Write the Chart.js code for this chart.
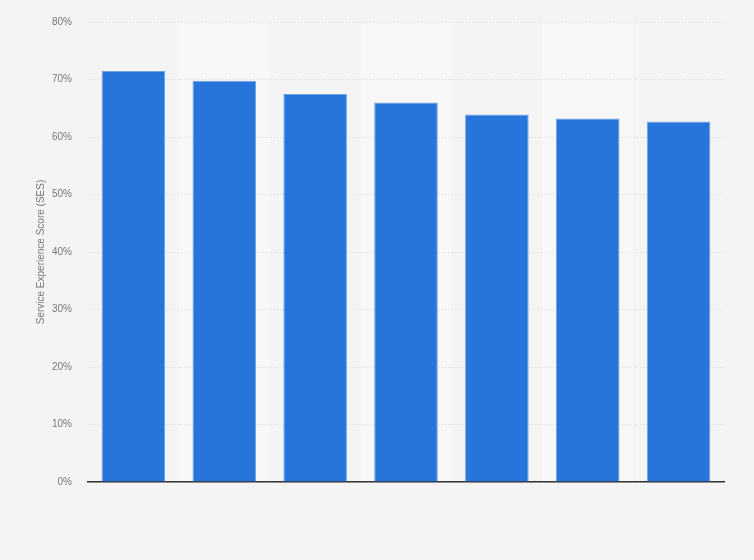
<!DOCTYPE html>
<html>
<head>
<meta charset="utf-8">
<script src="https://cdn.jsdelivr.net/npm/chart.js@4"></script>
<style>
  html, body { margin: 0; padding: 0; background: #f4f4f4; }
  #wrap { width: 754px; height: 560px; }
</style>
</head>
<body>
<div id="wrap"><canvas id="ses-bar"></canvas></div>
<script>
// Data
var categories = ['1', '2', '3', '4', '5', '6', '7'];
var sesValues = [71.5, 69.8, 67.5, 66.0, 63.9, 63.2, 62.7];
var yTicks = [0, 10, 20, 30, 40, 50, 60, 70, 80];

// Colors
var barColor = "#2775db";
var barEdge = "#6fa3e8";
var bandColor = "#f8f8f8";
var gridColor = "#d9d9d9";
var textColor = "#777777";

// alternate column shading, drawn before the grid and axis
var columnBands = {
  id: 'columnBands',
  beforeDraw: function(chart) {
    var ctx = chart.ctx;
    var x = chart.scales.x;
    var area = chart.chartArea;
    var step = (area.right - area.left) / categories.length;
    ctx.save();
    ctx.fillStyle = bandColor;
    categories.forEach(function(c, i) {
      if (i % 2 === 1) {
        var cx = x.getPixelForValue(i);
        ctx.fillRect(cx - step / 2, area.top, step, area.bottom - area.top);
      }
    });
    ctx.restore();
  }
};

var sesChart = new Chart(document.getElementById('ses-bar'), {
  type: 'bar',
  plugins: [columnBands],
  data: {
    labels: categories,
    datasets: [
      {
        data: sesValues,
        backgroundColor: barColor,
        borderColor: barEdge,
        borderWidth: 1,
        categoryPercentage: 1,
        barPercentage: 0.7
      }
    ]
  },
  options: {
    responsive: true,
    maintainAspectRatio: false,
    animation: false,
    layout: {
      padding: { left: 35, right: 30, top: 12, bottom: 78 }
    },
    plugins: {
      legend: { display: false },
      tooltip: { enabled: false }
    },
    scales: {
      x: {
        grid: { display: false, drawTicks: false },
        border: { display: true, color: '#333333', width: 1.5 },
        ticks: { display: false }
      },
      y: {
        min: 0,
        max: 80,
        afterBuildTicks: function(axis) {
          axis.ticks = yTicks.map(function(v) { return { value: v }; });
        },
        grid: { color: gridColor, drawTicks: false, lineWidth: 1 },
        border: { display: false, dash: [1, 2] },
        ticks: {
          padding: 16,
          color: textColor,
          font: { family: 'Liberation Sans', size: 10 },
          callback: function(v) { return v + '%'; }
        },
        title: {
          display: true,
          text: 'Service Experience Score (SES)',
          color: textColor,
          font: { family: 'Liberation Sans', size: 10 },
          padding: { top: 0, bottom: -11 }
        }
      }
    }
  }
});
</script>
</body>
</html>
